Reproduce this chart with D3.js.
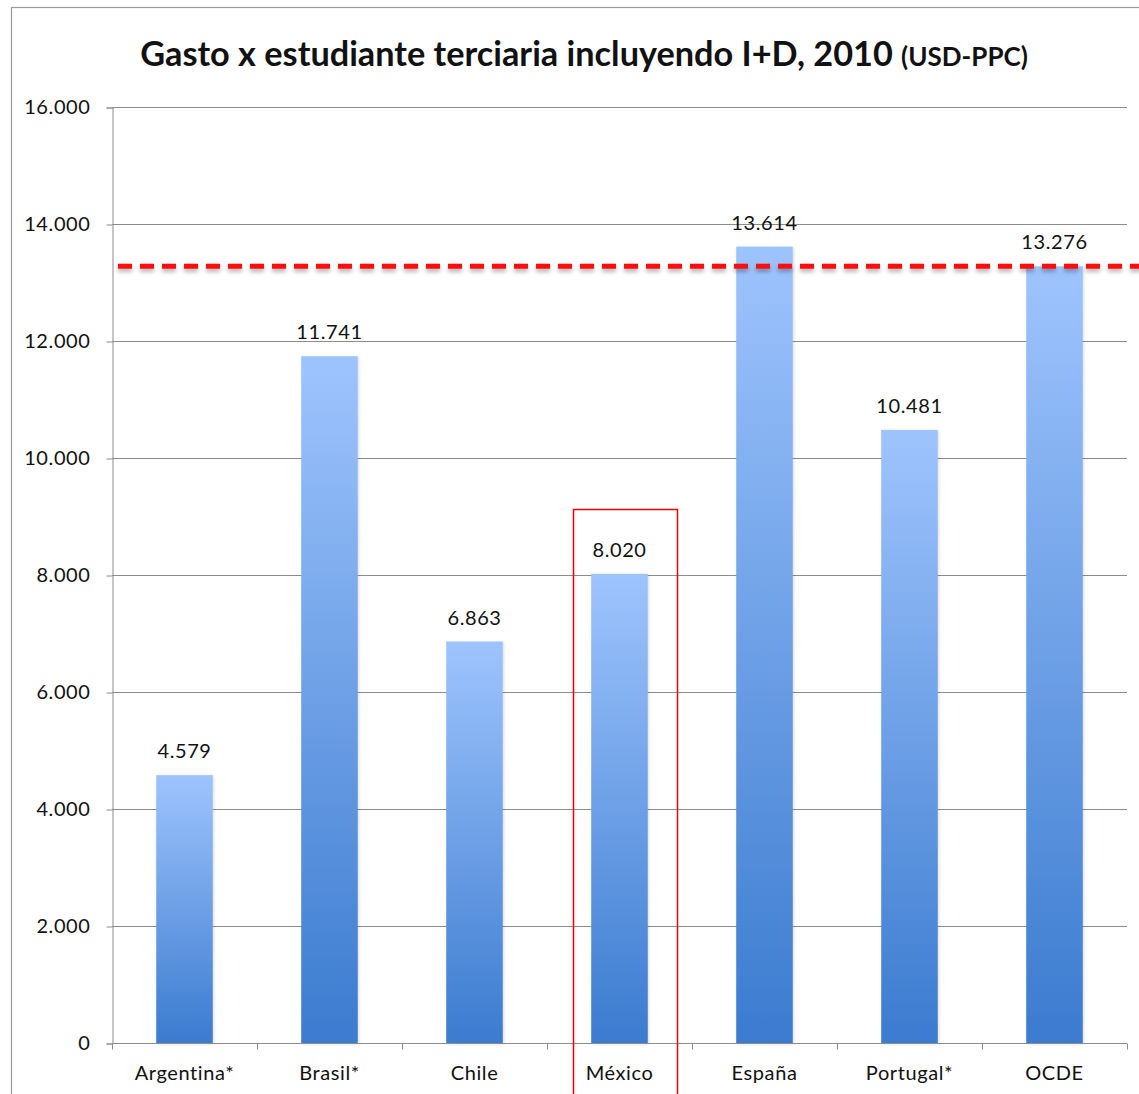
<!DOCTYPE html>
<html><head><meta charset="utf-8">
<script src="https://cdn.jsdelivr.net/npm/d3@7"></script>
<style>body{margin:0;background:#fff}svg{display:block}text{font-family:Lato,"Open Sans",sans-serif;fill:#111}</style>
</head><body><svg id="c" width="1139" height="1094"></svg>
<script>
const categories = ["Argentina*","Brasil*","Chile","México","España","Portugal*","OCDE"];
const values = [4579,11741,6863,8020,13614,10481,13276];
const yTicks = [0,2000,4000,6000,8000,10000,12000,14000,16000];
const referenceValue = 13276;
const highlighted = "México";
const titleMain = "Gasto x estudiante terciaria incluyendo I+D, 2010 ";
const titleSub = "(USD-PPC)";

const svg = d3.select("#c");
const loc = d3.formatLocale({decimal:",",thousands:".",grouping:[3],currency:["",""]});
const fmt = loc.format(",d");
const m = {left:112,right:1127,top:107,bottom:1043};
const x = d3.scaleBand().domain(categories).range([m.left,m.right]).paddingInner(0.61).paddingOuter(0.305);
const xb = d3.scaleBand().domain(categories).range([m.left,m.right]);
const y = d3.scaleLinear().domain([0,16000]).range([m.bottom,m.top]);
const FS = 20, LS = 0.6;

const defs = svg.append("defs");
const g = defs.append("linearGradient").attr("id","bg").attr("x1",0).attr("y1",0).attr("x2",0).attr("y2",1);
g.append("stop").attr("offset","0%").attr("stop-color","#9ec4fd");
g.append("stop").attr("offset","100%").attr("stop-color","#3b7bcf");
const f = defs.append("filter").attr("id","sh").attr("filterUnits","userSpaceOnUse")
  .attr("x",0).attr("y",y(referenceValue)-20).attr("width",1139).attr("height",40);
f.append("feDropShadow").attr("dx",0).attr("dy",3).attr("stdDeviation",2).attr("flood-color","#000").attr("flood-opacity",0.3);
const fb = defs.append("filter").attr("id","bsh").attr("x","-20%").attr("y","-5%").attr("width","140%").attr("height","110%");
fb.append("feDropShadow").attr("dx",1).attr("dy",1).attr("stdDeviation",1.5).attr("flood-color","#000").attr("flood-opacity",0.15);

// outer border
svg.append("rect").attr("x",11.5).attr("y",7.5).attr("width",1140).attr("height",1100).attr("fill","none").attr("stroke","#9a9a9a").attr("stroke-width",1.2);

// title
const t = svg.append("text").attr("x",584).attr("y",66).attr("text-anchor","middle").attr("font-weight","bold");
const t1 = t.append("tspan").attr("font-size",29).text(titleMain);
const t2 = t.append("tspan").attr("font-size",22).text(titleSub);
const w = t.node().getComputedTextLength();
const k = 888 / w;
t1.attr("font-size",29*k); t2.attr("font-size",22*k);

// gridlines
svg.append("g").selectAll("line").data(yTicks.slice(1)).join("line")
  .attr("x1",m.left).attr("x2",m.right).attr("y1",d=>Math.round(y(d))+0.5).attr("y2",d=>Math.round(y(d))+0.5)
  .attr("stroke","#8c8c8c").attr("stroke-width",1);

// y axis
const ya = svg.append("g").attr("transform",`translate(${m.left+0.5},0.5)`)
  .call(d3.axisLeft(y).tickValues(yTicks).tickFormat(fmt).tickSize(6).tickPadding(16));
ya.select(".domain").attr("stroke","#8c8c8c");
ya.selectAll(".tick line").attr("stroke","#8c8c8c");
ya.selectAll("text").attr("font-size",FS).attr("letter-spacing",LS).attr("font-family","Lato,'Open Sans',sans-serif").attr("fill","#111");

// bars
svg.append("g").selectAll("rect").data(values).join("rect")
  .attr("x",(d,i)=>x(categories[i])).attr("width",x.bandwidth())
  .attr("y",d=>y(d)).attr("height",d=>y(0)-y(d))
  .attr("fill","url(#bg)").attr("filter","url(#bsh)");

// x axis
const xa = svg.append("g").attr("transform",`translate(0,${m.bottom+0.5})`)
  .call(d3.axisBottom(xb).tickSize(0).tickPadding(22));
xa.select(".domain").remove();
xa.append("line").attr("x1",m.left).attr("x2",m.right).attr("stroke","#8c8c8c");
xa.selectAll(".bnd").data(categories.concat(["_end"])).join("line").attr("class","bnd")
  .attr("x1",(d,i)=>m.left+i*xb.bandwidth()+0.5).attr("x2",(d,i)=>m.left+i*xb.bandwidth()+0.5)
  .attr("y1",0).attr("y2",6).attr("stroke","#8c8c8c");
xa.selectAll(".tick text").attr("font-size",FS).attr("letter-spacing",LS).attr("font-family","Lato,'Open Sans',sans-serif").attr("fill","#111");

// value labels
svg.append("g").selectAll("text").data(values).join("text")
  .attr("x",(d,i)=>x(categories[i])+x.bandwidth()/2).attr("y",d=>y(d)-17)
  .attr("text-anchor","middle").attr("font-size",FS).attr("letter-spacing",LS).text(d=>fmt(d));

// reference dashed line
svg.append("line").attr("x1",118).attr("x2",1145).attr("y1",y(referenceValue)).attr("y2",y(referenceValue))
  .attr("stroke","#ff1010").attr("stroke-width",5).attr("stroke-dasharray","14 8").attr("filter","url(#sh)");

// highlight box
const hx = xb(highlighted);
svg.append("rect").attr("x",hx+26.5).attr("y",509.5).attr("width",104).attr("height",600)
  .attr("fill","none").attr("stroke","#ee0000").attr("stroke-width",1.5);
</script></body></html>
